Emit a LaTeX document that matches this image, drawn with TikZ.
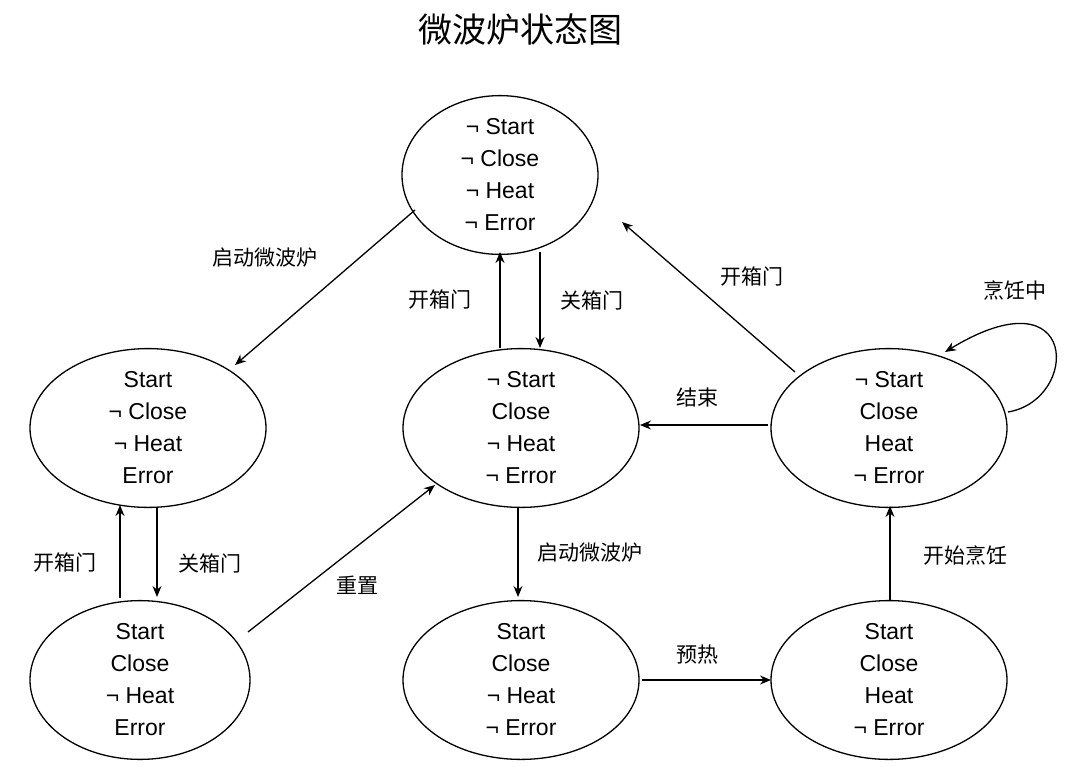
\documentclass[tikz,border=0pt]{standalone}
\usepackage{fontspec}
\setmainfont{Liberation Sans}
\newfontfamily\cjk{Noto Sans CJK SC}
\usetikzlibrary{shapes.geometric,arrows.meta}
\begin{document}
\begin{tikzpicture}[x=1pt,y=-1pt,
 st/.style={ellipse,draw,line width=1.3pt,minimum width=236pt,minimum height=156pt,align=center,font=\fontsize{23}{32}\selectfont,inner sep=0pt},
 ar/.style={-{Stealth[length=11pt,width=9pt]},line width=1.3pt},
 lb/.style={font=\cjk\fontsize{21}{24}\selectfont}]
\useasboundingbox (0,0) rectangle (1080,780);
\node[font=\cjk\fontsize{34}{40}\selectfont] (title) at (520,30) {微波炉状态图};
\node[st,minimum width=196pt] (top) at (500,175) {¬ Start\\¬ Close\\¬ Heat\\¬ Error};
\node[st] (lm) at (148,428) {Start\\¬ Close\\¬ Heat\\Error};
\node[st] (cm) at (521,428) {¬ Start\\Close\\¬ Heat\\¬ Error};
\node[st] (rm) at (889,428) {¬ Start\\Close\\Heat\\¬ Error};
\node[st,minimum width=220pt] (lb1) at (140,680) {Start\\Close\\¬ Heat\\Error};
\node[st] (cb) at (521,680) {Start\\Close\\¬ Heat\\¬ Error};
\node[st] (rb) at (889,680) {Start\\Close\\Heat\\¬ Error};
\draw[ar] (415,210) -- (235,365);
\node[lb] (l1) at (265,258) {启动微波炉};
\draw[ar] (500,348) -- (500,252);
\node[lb] (l2) at (440,300) {开箱门};
\draw[ar] (540,252) -- (540,348);
\node[lb] (l3) at (592,300) {关箱门};
\draw[ar] (795,372) -- (622,222);
\node[lb] (l4) at (752,277) {开箱门};
\draw[ar] (1008,412) .. controls (1080,400) and (1080,270) .. (945,352);
\node[lb] (l5) at (1015,290) {烹饪中};
\draw[ar] (768,425) -- (640,425);
\node[lb] (l6) at (697,398) {结束};
\draw[ar] (157,508) -- (157,597);
\node[lb] (l7) at (210,563) {关箱门};
\draw[ar] (120,598) -- (120,505);
\node[lb] (l8) at (65,563) {开箱门};
\draw[ar] (248,632) -- (435,485);
\node[lb] (l9) at (357,585) {重置};
\draw[ar] (518,508) -- (518,597);
\node[lb] (l10) at (590,553) {启动微波炉};
\draw[ar] (642,680) -- (771,680);
\node[lb] (l11) at (697,655) {预热};
\draw[ar] (890,600) -- (890,506);
\node[lb] (l12) at (965,555) {开始烹饪};
\end{tikzpicture}
\end{document}
